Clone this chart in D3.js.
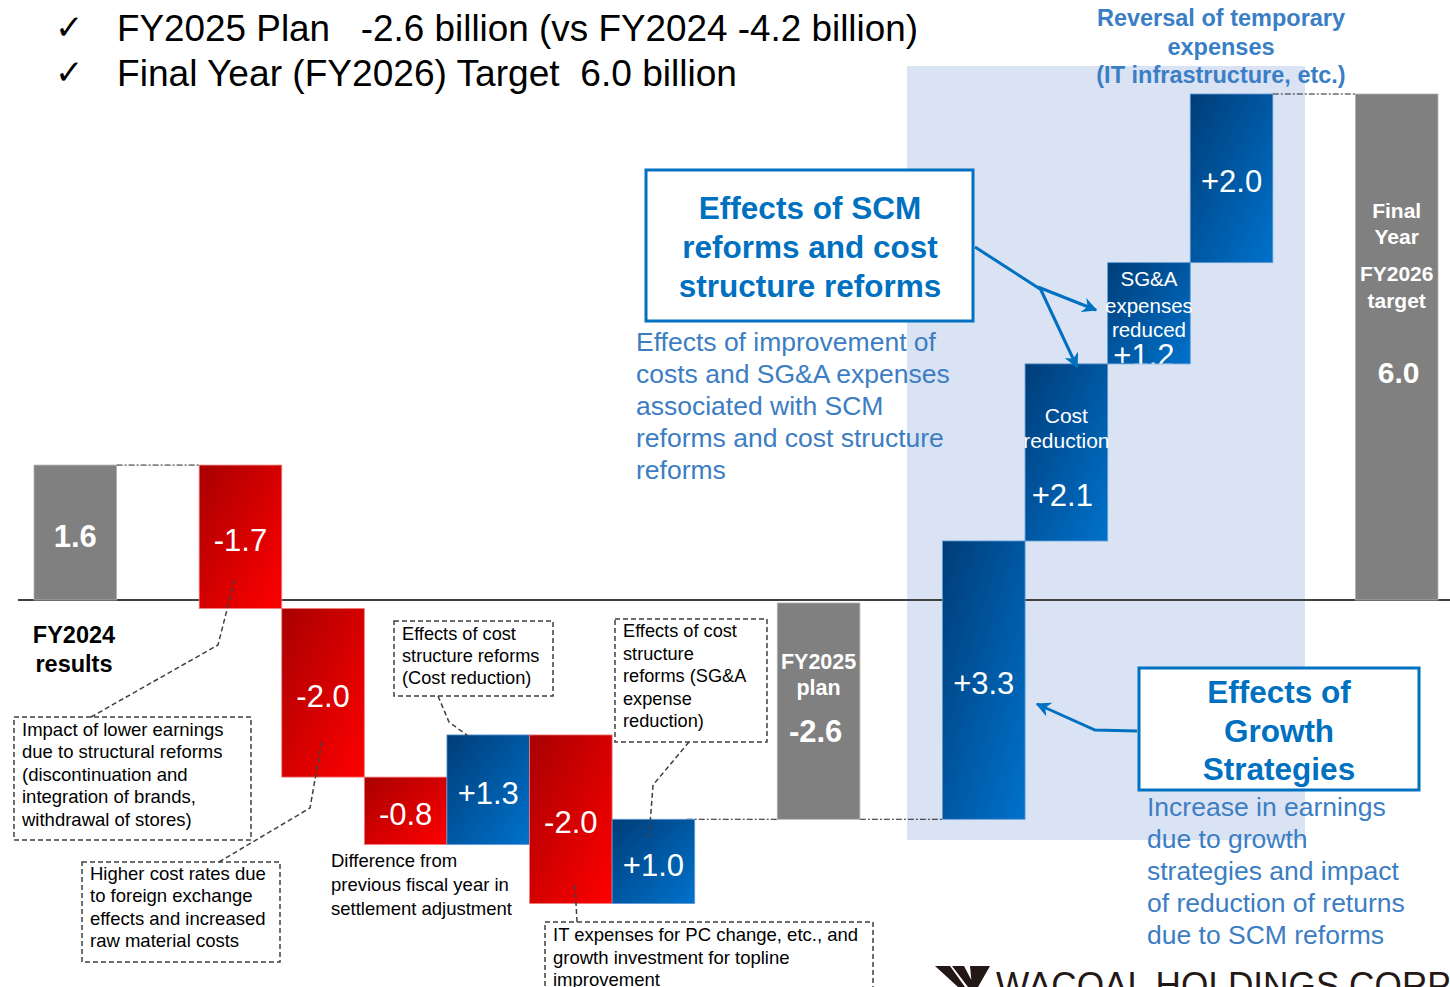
<!DOCTYPE html>
<html>
<head>
<meta charset="utf-8">
<script src="https://cdn.jsdelivr.net/npm/d3@7"></script>
<style>
  html, body { margin: 0; padding: 0; background: #fff; }
  svg { display: block; font-family: "Liberation Sans", Arial, sans-serif; }
  text { white-space: pre; }
</style>
</head>
<body>
<svg id="chart" width="1450" height="987"></svg>
<script>
// ---------------- data ----------------
const ids = ["fy24","g1","d1","d2","d3","d4","d5","d6","g2","fy25","g3","d7","d8","d9","d10","g4","fy26"];
const values = [1.6, null, -1.7, -2.0, -0.8, 1.3, -2.0, 1.0, null, -2.6, null, 3.3, 2.1, 1.2, 2.0, null, 6.0];
const kinds = ["total","gap","delta","delta","delta","delta","delta","delta","gap","total","gap","delta","delta","delta","delta","gap","total"];
const barLabels = [
  ["1.6"], [], ["-1.7"], ["-2.0"], ["-0.8"], ["+1.3"], ["-2.0"], ["+1.0"], [],
  ["FY2025", "plan", "-2.6"], [],
  ["+3.3"], ["Cost", "reduction", "+2.1"], ["SG&A", "expenses", "reduced", "+1.2"], ["+2.0"], [],
  ["Final", "Year", "FY2026", "target", "6.0"]
];
const titleLines = ["FY2025 Plan   -2.6 billion (vs FY2024 -4.2 billion)", "Final Year (FY2026) Target  6.0 billion"];
const reversalLines = ["Reversal of temporary", "expenses", "(IT infrastructure, etc.)"];
const scmTitle = ["Effects of SCM", "reforms and cost", "structure reforms"];
const scmNote = ["Effects of improvement of", "costs and SG&A expenses", "associated with SCM", "reforms and cost structure", "reforms"];
const growthTitle = ["Effects of", "Growth", "Strategies"];
const growthNote = ["Increase in earnings", "due to growth", "strategies and impact", "of reduction of returns", "due to SCM reforms"];
const fy24Label = ["FY2024", "results"];
const noteStructural = ["Impact of lower earnings", "due to structural reforms", "(discontinuation and", "integration of brands,", "withdrawal of stores)"];
const noteFx = ["Higher cost rates due", "to foreign exchange", "effects and increased", "raw material costs"];
const noteCost = ["Effects of cost", "structure reforms", "(Cost reduction)"];
const noteSga = ["Effects of cost", "structure", "reforms (SG&A", "expense", "reduction)"];
const noteIt = ["IT expenses for PC change, etc., and", "growth investment for topline", "improvement"];
const noteSettle = ["Difference from", "previous fiscal year in", "settlement adjustment"];

// ---------------- build waterfall ----------------
let running = 0;
const bars = ids.map((id, i) => {
  const v = values[i];
  if (kinds[i] === "gap") return { id, kind: "gap", level: running, labels: [] };
  let y0, y1;
  if (kinds[i] === "total") { y0 = 0; y1 = v; running = v; }
  else { y0 = running; y1 = running + v; running = y1; }
  return { id, kind: kinds[i], v, y0, y1, labels: barLabels[i], i };
});

const svg = d3.select("#chart");
const x = d3.scaleBand().domain(ids).range([34, 1438]).padding(0);
const y = d3.scaleLinear().domain([-4, 6]).range([600 + 4 * 84.333, 94]);

const defs = svg.append("defs");
function grad(id, c0, c1) {
  const g = defs.append("linearGradient").attr("id", id)
    .attr("x1", 0).attr("y1", 0).attr("x2", 1).attr("y2", 1);
  g.append("stop").attr("offset", "0%").attr("stop-color", c0);
  g.append("stop").attr("offset", "100%").attr("stop-color", c1);
}
grad("gRed", "#a80000", "#ff0000");
grad("gBlue", "#003d78", "#0072cc");
defs.append("marker").attr("id", "arr").attr("viewBox", "0 0 10 10")
  .attr("refX", 9).attr("refY", 5).attr("markerWidth", 5).attr("markerHeight", 5)
  .attr("orient", "auto").attr("markerUnits", "strokeWidth")
  .append("path").attr("d", "M0,0 L10,5 L0,10 L3,5 Z").attr("fill", "#0070c0");

// light blue highlight panel
svg.append("rect").attr("x", 907).attr("y", 66).attr("width", 398).attr("height", 774).attr("fill", "#dae3f3");

// title
const title = svg.append("g");
titleLines.forEach((t, i) => {
  title.append("text").attr("x", 55).attr("y", 39 + i * 45).attr("font-family", "DejaVu Sans")
    .attr("font-size", 34).attr("fill", "#000").text("✓");
  title.append("text").attr("x", 117).attr("y", 41 + i * 45).attr("font-size", 37).attr("fill", "#000")
    .attr("textLength", i === 0 ? 801 : 620).attr("lengthAdjust", "spacingAndGlyphs").text(t);
});

// reversal header
reversalLines.forEach((t, i) => {
  svg.append("text").attr("x", 1221).attr("y", 26 + i * 28.5).attr("text-anchor", "middle")
    .attr("font-size", 23.5).attr("font-weight", "bold").attr("fill", "#3a7ec6").text(t);
});

// zero line
svg.append("line").attr("x1", 18).attr("x2", 1450).attr("y1", y(0)).attr("y2", y(0))
  .attr("stroke", "#404040").attr("stroke-width", 2);

// connectors across gaps
bars.filter(b => b.kind === "gap").forEach(b => {
  svg.append("line").attr("x1", x(b.id) - (b.id === "g2" ? 8 : 0)).attr("x2", x(b.id) + x.bandwidth())
    .attr("y1", y(b.level)).attr("y2", y(b.level))
    .attr("stroke", "#222").attr("stroke-width", 1).attr("stroke-dasharray", "6,2,2,2");
});

// bars
const real = bars.filter(b => b.kind !== "gap");
svg.append("g").selectAll("rect").data(real).join("rect")
  .attr("x", d => x(d.id)).attr("width", x.bandwidth())
  .attr("y", d => Math.min(y(d.y0), y(d.y1)) + (d.kind === "total" && d.v < 0 ? 3 : 0))
  .attr("height", d => Math.abs(y(d.y0) - y(d.y1)) - (d.kind === "total" && d.v < 0 ? 3 : 0))
  .attr("fill", d => d.kind === "total" ? "#808080" : (d.v < 0 ? "url(#gRed)" : "url(#gBlue)"))
  .attr("stroke", d => d.kind === "total" ? "#b0b0b0" : (d.v < 0 ? "#f08080" : "#5f9bd5"))
  .attr("stroke-width", 0.8);

// clip for labels inside bars
real.forEach(d => {
  defs.append("clipPath").attr("id", "clip-" + d.id).append("rect")
    .attr("x", x(d.id) - 20).attr("width", x.bandwidth() + 40)
    .attr("y", Math.min(y(d.y0), y(d.y1))).attr("height", Math.abs(y(d.y0) - y(d.y1)));
});

// bar labels
const multiLayout = {
  fy25: { offs: [61, 87, 131], sizes: [21.5, 21.5, 31], bold: [1, 1, 1], dx: [0, 0, -3] },
  d8: { offs: [52, 77, 131], sizes: [21, 21, 31], bold: [0, 0, 0], dx: [0, 0, -4] },
  d9: { offs: [16, 43, 67, 92], sizes: [20.5, 20.5, 20.5, 31], bold: [0, 0, 0, 0], dx: [0, 0, 0, -5] },
  fy26: { offs: [116, 142, 179, 206, 278], sizes: [21, 21, 21, 21, 30], bold: [1, 1, 1, 1, 1], dx: [0, 0, 0, 0, 2] }
};
real.forEach(d => {
  const cx = x(d.id) + x.bandwidth() / 2;
  const top = Math.min(y(d.y0), y(d.y1));
  const g = svg.append("g").attr("clip-path", "url(#clip-" + d.id + ")");
  const lay = multiLayout[d.id];
  if (lay) {
    d.labels.forEach((t, k) => {
      g.append("text").attr("x", cx + lay.dx[k]).attr("y", top + lay.offs[k]).attr("dy", "0.36em")
        .attr("text-anchor", "middle").attr("font-size", lay.sizes[k])
        .attr("font-weight", lay.bold[k] ? "bold" : "normal").attr("fill", "#fff").text(t);
    });
  } else {
    const mid = (y(d.y0) + y(d.y1)) / 2 + 3;
    g.append("text").attr("x", cx).attr("y", mid).attr("dy", "0.36em")
      .attr("text-anchor", "middle").attr("font-size", 31)
      .attr("font-weight", d.kind === "total" ? "bold" : "normal").attr("fill", "#fff").text(d.labels[0]);
  }
});

// FY2024 results label
fy24Label.forEach((t, i) => {
  svg.append("text").attr("x", 74).attr("y", 643 + i * 29).attr("text-anchor", "middle")
    .attr("font-size", 23.5).attr("font-weight", "bold").attr("fill", "#000").text(t);
});

// dashed annotation boxes
function noteBox(lines, bx, by, bw, bh, tx, ty, lh, fs, leader) {
  svg.append("rect").attr("x", bx).attr("y", by).attr("width", bw).attr("height", bh)
    .attr("fill", "#fff").attr("stroke", "#404040").attr("stroke-width", 1.5).attr("stroke-dasharray", "5,3");
  lines.forEach((t, i) => {
    svg.append("text").attr("x", tx).attr("y", ty + i * lh).attr("font-size", fs).attr("fill", "#000").text(t);
  });
  if (leader) {
    svg.append("path").attr("d", d3.line()(leader)).attr("fill", "none")
      .attr("stroke", "#404040").attr("stroke-width", 1.5).attr("stroke-dasharray", "5,3");
  }
}
noteBox(noteStructural, 14, 717, 237, 123, 22, 736, 22.4, 18.5, [[91, 717], [218, 645], [235, 578]]);
noteBox(noteFx, 82, 862, 198, 100, 90, 880, 22.4, 18.5, [[219, 862], [310, 808], [322, 740]]);
noteBox(noteCost, 394, 621, 159, 75, 402, 640, 22, 18.2, [[438, 696], [449, 722], [468, 736]]);
noteBox(noteSga, 615, 619, 152, 123, 623, 637, 22.5, 18.2, [[689, 742], [653, 785], [649, 838]]);
noteBox(noteIt, 545, 922, 328, 80, 553, 941, 22.5, 18.5, [[577, 922], [575, 884]]);
noteSettle.forEach((t, i) => {
  svg.append("text").attr("x", 331).attr("y", 867 + i * 24).attr("font-size", 18.5).attr("fill", "#000").text(t);
});

// SCM callout
svg.append("rect").attr("x", 646).attr("y", 170).attr("width", 327).attr("height", 151)
  .attr("fill", "#fff").attr("stroke", "#0070c0").attr("stroke-width", 3);
scmTitle.forEach((t, i) => {
  svg.append("text").attr("x", 810).attr("y", 219 + i * 39).attr("text-anchor", "middle")
    .attr("font-size", 31.5).attr("font-weight", "bold").attr("fill", "#0070c0").text(t);
});
scmNote.forEach((t, i) => {
  svg.append("text").attr("x", 636).attr("y", 351 + i * 32).attr("font-size", 26.5).attr("fill", "#3c7dc3").text(t);
});
svg.append("path").attr("d", d3.line()([[975, 247], [1040, 289]])).attr("fill", "none")
  .attr("stroke", "#0070c0").attr("stroke-width", 3);
svg.append("path").attr("d", d3.line()([[1038, 287], [1096, 310]])).attr("fill", "none")
  .attr("stroke", "#0070c0").attr("stroke-width", 3).attr("marker-end", "url(#arr)");
svg.append("path").attr("d", d3.line()([[1040, 288], [1077, 367]])).attr("fill", "none")
  .attr("stroke", "#0070c0").attr("stroke-width", 3).attr("marker-end", "url(#arr)");

// Growth callout
svg.append("rect").attr("x", 1139).attr("y", 668).attr("width", 280).attr("height", 122)
  .attr("fill", "#fff").attr("stroke", "#0070c0").attr("stroke-width", 3);
growthTitle.forEach((t, i) => {
  svg.append("text").attr("x", 1279).attr("y", 703 + i * 38.5).attr("text-anchor", "middle")
    .attr("font-size", 31.5).attr("font-weight", "bold").attr("fill", "#0070c0").text(t);
});
growthNote.forEach((t, i) => {
  svg.append("text").attr("x", 1147).attr("y", 816 + i * 32).attr("font-size", 26.5).attr("fill", "#3c7dc3").text(t);
});
svg.append("path").attr("d", d3.line()([[1137, 731], [1095, 730], [1037, 704]])).attr("fill", "none")
  .attr("stroke", "#0070c0").attr("stroke-width", 3).attr("marker-end", "url(#arr)");

// company logo (cut off at the bottom edge, as in the reference)
svg.append("path")
  .attr("d", "M935,966 L950,966 L965,987 L958,987 Z M952,966 L964,966 L975,987 L968,987 Z M970,966 L990,966 L978,987 L972,987 Z")
  .attr("fill", "#231815");
svg.append("text").attr("x", 996).attr("y", 998).attr("font-size", 37).attr("fill", "#231815")
  .attr("textLength", 460).attr("lengthAdjust", "spacingAndGlyphs").text("WACOAL HOLDINGS CORP.");
</script>
</body>
</html>
